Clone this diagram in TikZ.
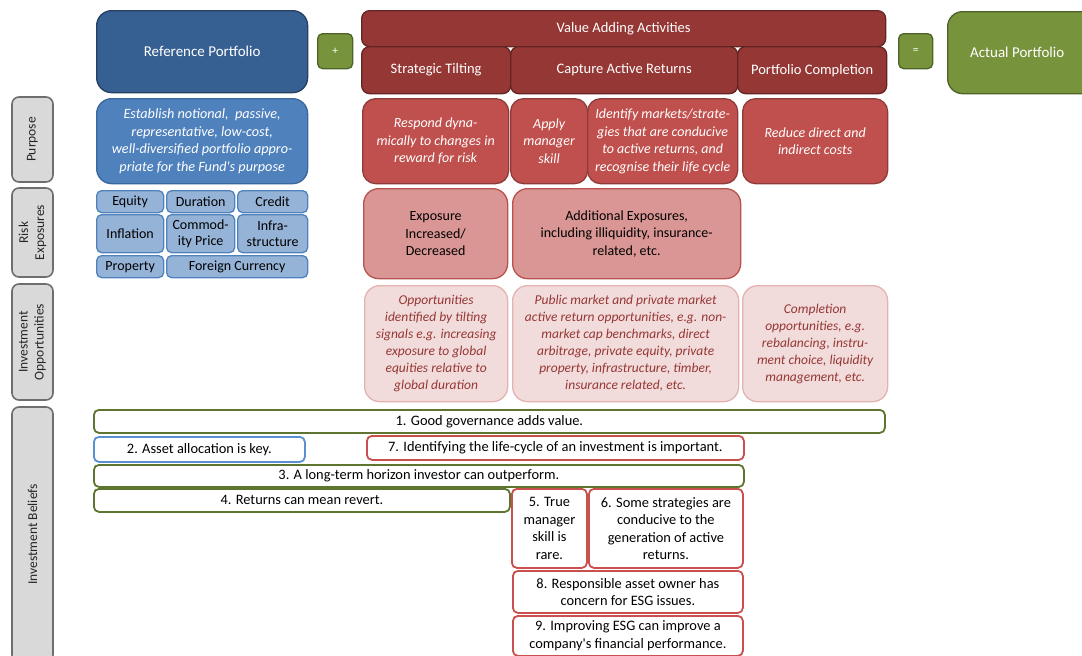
\documentclass[tikz,border=0pt]{standalone}
\usepackage{fontspec}
\setmainfont{Carlito}[Ligatures=TeXOff]
\definecolor{dblue}{HTML}{376092}
\definecolor{dblueB}{HTML}{254061}
\definecolor{mblue}{HTML}{4F81BD}
\definecolor{mblueB}{HTML}{3A679C}
\definecolor{lblue}{HTML}{95B3D7}
\definecolor{dred}{HTML}{953735}
\definecolor{dredB}{HTML}{632523}
\definecolor{mred}{HTML}{C0504D}
\definecolor{mredB}{HTML}{8E3B39}
\definecolor{lred}{HTML}{D99694}
\definecolor{lredB}{HTML}{B9524F}
\definecolor{pink}{HTML}{F2DCDB}
\definecolor{pinkB}{HTML}{E3B3B2}
\definecolor{grn}{HTML}{77933C}
\definecolor{grnB}{HTML}{4F6228}
\definecolor{gry}{HTML}{D9D9D9}
\definecolor{gryB}{HTML}{6E6E6E}
\definecolor{belG}{HTML}{5E7530}
\definecolor{belB}{HTML}{5A8FD0}
\definecolor{belR}{HTML}{C9504D}
\newcommand\mybox[7]{\node[#1,anchor=north west,minimum width={#5-#3},minimum height={#6-#4},inner sep=0pt,align=center] (#2) at (#3,#4) {#7};}
\newcommand\mylabel[6]{\node[graylbl,rotate=90,minimum width={#6-#4},minimum height={#5-#3},inner sep=0pt,align=center] (#2) at ({(#3+#5)/2},{(#4+#6)/2}) {#1};}
\tikzset{
  base/.style={line width=1.3pt},
  graylbl/.style={base,fill=gry,draw=gryB,line width=1.6pt,rounded corners=7pt,text=black!85,font={\fontsize{13.5}{16}\selectfont}},
  refbox/.style={base,fill=dblue,draw=dblueB,rounded corners=15pt,text=white,font={\fontsize{15}{18}\selectfont}},
  opbox/.style={base,fill=grn,draw=grnB,rounded corners=5pt,text=white,font={\fontsize{11.5}{13}\selectfont}},
  actbox/.style={base,fill=grn,draw=grnB,rounded corners=15pt,text=white,font={\fontsize{15}{18}\selectfont}},
  purblue/.style={base,fill=mblue,draw=mblueB,rounded corners=15pt,text=white,font={\fontsize{14.2}{17.5}\selectfont\itshape}},
  riskblue/.style={base,fill=lblue,draw=mblue,rounded corners=5pt,text=black,font={\fontsize{14}{16.5}\selectfont}},
  vabox/.style={base,fill=dred,draw=dredB,rounded corners=8pt,text=white,font={\fontsize{14.5}{17}\selectfont}},
  purred/.style={base,fill=mred,draw=mredB,rounded corners=13pt,text=white,font={\fontsize{14}{17.5}\selectfont\itshape}},
  riskred/.style={base,fill=lred,draw=lredB,rounded corners=15pt,text=black,font={\fontsize{14}{17.5}\selectfont}},
  oppbox/.style={base,fill=pink,draw=pinkB,rounded corners=15pt,text=dred,font={\fontsize{13.5}{17}\selectfont\itshape}},
  belief/.style={line width=1.8pt,fill=white,rounded corners=5pt,text=black,font={\fontsize{14.4}{17.5}\selectfont}},
  belg/.style={belief,draw=belG},
  belb/.style={belief,draw=belB},
  belr/.style={belief,draw=belR},
}
\begin{document}
\begin{tikzpicture}[x=1pt,y=-1pt]
\useasboundingbox (0,0) rectangle (1082,656);
\clip (0,0) rectangle (1082,656);
% row labels
\mylabel{Purpose}{lp}{12}{97}{53}{182}
\mylabel{Risk\\Exposures}{lr}{12}{188}{53}{277}
\mylabel{Investment\\Opportunities}{li}{12}{284}{53}{400}
\mylabel{Investment Beliefs}{lb}{12}{407}{53}{662}
% header
\mybox{refbox}{ref}{96}{10}{307}{92}{Reference Portfolio}
\mybox{opbox}{plus}{317}{33}{352}{68}{+}
\mybox{vabox}{vaa}{361}{10}{885}{46}{Value Adding Activities}
\mybox{vabox}{st}{361}{46}{510}{93}{Strategic Tilting}
\mybox{vabox}{car}{510}{46}{737}{93}{Capture Active Returns}
\mybox{vabox}{pc}{737}{46}{886}{93}{Portfolio Completion}
\mybox{opbox}{eq}{898}{33}{932}{68}{=}
\mybox{actbox}{act}{947}{11}{1100}{93}{\hspace*{-14pt}Actual Portfolio}
% purpose
\mybox{purblue}{pref}{96}{98}{307}{183}{Establish notional,\ \ passive,\\representative, low-cost,\\well-diversified portfolio appro-\\priate for the Fund's purpose}
\mybox{purred}{pst}{362}{98}{508}{183}{Respond dyna-\\mically to changes in\\reward for risk}
\mybox{purred}{pam}{510}{98}{587}{183}{Apply\\manager\\skill}
\mybox{purred}{pid}{587}{98}{737}{183}{Identify markets/strate-\\gies that are conducive\\to active returns, and\\recognise their life cycle}
\mybox{purred}{ppc}{742}{98}{887}{183}{Reduce direct and\\indirect costs}
% risk exposures
\mybox{riskblue}{requity}{96}{190}{163}{212}{Equity}
\mybox{riskblue}{rdur}{166}{190}{234}{212}{Duration}
\mybox{riskblue}{rcred}{237}{190}{307}{212}{Credit}
\mybox{riskblue}{rinf}{96}{214}{163}{252}{Inflation}
\mybox{riskblue}{rcom}{166}{214}{234}{252}{Commod-\\ity Price}
\mybox{riskblue}{rinfra}{237}{214}{307}{252}{Infra-\\structure}
\mybox{riskblue}{rprop}{96}{255}{163}{277}{Property}
\mybox{riskblue}{rfx}{166}{255}{307}{277}{Foreign Currency}
\mybox{riskred}{rexp}{363}{188}{507}{278}{Exposure\\Increased/\\Decreased}
\mybox{riskred}{radd}{512}{188}{740}{278}{Additional Exposures,\\including illiquidity, insurance-\\related, etc.}
% investment opportunities
\mybox{oppbox}{ost}{364}{285}{507}{401}{Opportunities\\identified by tilting\\signals e.g. increasing\\exposure to global\\equities relative to\\global duration}
\mybox{oppbox}{oca}{512}{285}{738}{401}{Public market and private market\\active return opportunities, e.g. non-\\market cap benchmarks, direct\\arbitrage, private equity, private\\property, infrastructure, timber,\\insurance related, etc.}
\mybox{oppbox}{opc}{742}{285}{887}{401}{Completion\\opportunities, e.g.\\rebalancing, instru-\\ment choice, liquidity\\management, etc.}
% investment beliefs
\mybox{belg}{b1}{93}{409}{884}{432}{\raisebox{-1.5pt}{1. Good governance adds value.}}
\mybox{belb}{b2}{93}{436}{304}{461}{\raisebox{-1.5pt}{2. Asset allocation is key.}}
\mybox{belr}{b7}{366}{435}{743}{459}{\raisebox{-1.5pt}{7. Identifying the life-cycle of an investment is important.}}
\mybox{belg}{b3}{93}{464}{743}{486}{\raisebox{-1.5pt}{3. A long-term horizon investor can outperform.}}
\mybox{belg}{b4}{93}{488}{509}{511}{\raisebox{1pt}{4. Returns can mean revert.}}
\mybox{belr}{b5}{511}{488}{586}{567}{5. True\\manager\\skill is\\rare.}
\mybox{belr}{b6}{588}{488}{742}{567}{6. Some strategies are\\conducive to the\\generation of active\\returns.}
\mybox{belr}{b8}{512}{570}{742}{612}{8. Responsible asset owner has\\concern for ESG issues.}
\mybox{belr}{b9}{512}{615}{742}{655}{9. Improving ESG can improve a\\company's financial performance.}
\end{tikzpicture}
\end{document}
